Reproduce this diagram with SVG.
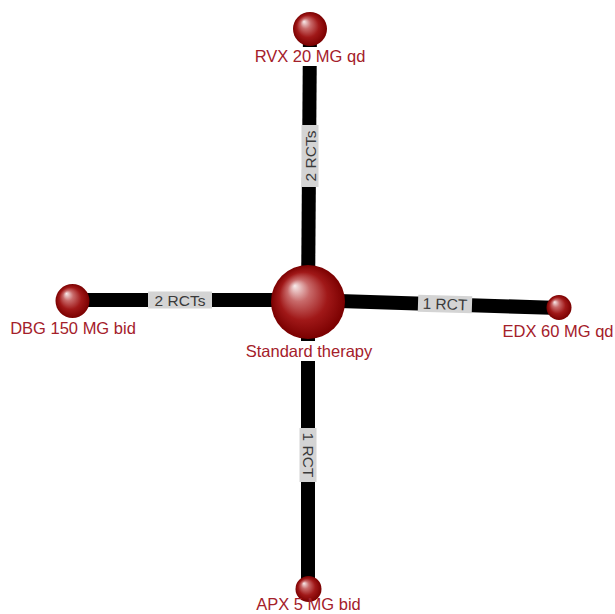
<svg xmlns="http://www.w3.org/2000/svg" width="615" height="614" viewBox="0 0 615 614">
<defs>
<radialGradient id="ball" cx="0.5" cy="0.5" r="0.5" fx="0.32" fy="0.28">
<stop offset="0" stop-color="#f8ecec"/>
<stop offset="0.3" stop-color="#c86a6a"/>
<stop offset="0.65" stop-color="#a01818"/>
<stop offset="1" stop-color="#7a0000"/>
</radialGradient>
<style>
.edge{stroke:#000;stroke-width:14;fill:none}
.lbox{fill:#d4d4d4}
.etxt{font-family:"Liberation Sans",Arial,sans-serif;font-size:15.5px;fill:#3a3a3a;text-anchor:middle}
.ntxt{font-family:"Liberation Sans",Arial,sans-serif;font-size:16.5px;fill:#a4202a;text-anchor:middle}
.node{fill:url(#ball)}
</style>
</defs>
<rect width="615" height="614" fill="#fff"/>
<g id="connectors">
<line class="edge" x1="310" y1="29" x2="308" y2="302"/>
<line class="edge" x1="308" y1="302" x2="308" y2="589"/>
<line class="edge" x1="72" y1="300" x2="308" y2="300"/>
<line class="edge" x1="308" y1="300" x2="559" y2="308"/>
<g transform="translate(310,156) rotate(-90)">
<rect class="lbox" x="-31" y="-8.5" width="62" height="17"/>
<text class="etxt" x="0" y="5.5">2 RCTs</text>
</g>
<g transform="translate(308,455) rotate(90)">
<rect class="lbox" x="-27" y="-8.5" width="54" height="17"/>
<text class="etxt" x="0" y="5.5">1 RCT</text>
</g>
<g transform="translate(180,300)">
<rect class="lbox" x="-32" y="-8.5" width="64" height="17"/>
<text class="etxt" x="0" y="5.5">2 RCTs</text>
</g>
<g transform="translate(445,304) rotate(1.84)">
<rect class="lbox" x="-27" y="-8.5" width="54" height="17"/>
<text class="etxt" x="0" y="5.5">1 RCT</text>
</g>
</g>
<g id="node-standard">
<circle class="node" cx="308" cy="302" r="37"/>
<rect x="242" y="341" width="134" height="20" fill="#fff"/>
<text class="ntxt" x="309" y="357">Standard therapy</text>
</g>
<g id="node-rvx">
<circle class="node" cx="310" cy="29" r="17"/>
<rect x="252" y="47" width="116" height="19" fill="#fff"/>
<text class="ntxt" x="310" y="62">RVX 20 MG qd</text>
</g>
<g id="node-dbg">
<circle class="node" cx="72.5" cy="301" r="17"/>
<text class="ntxt" x="73" y="334">DBG 150 MG bid</text>
</g>
<g id="node-edx">
<circle class="node" cx="559" cy="307.5" r="12.5"/>
<text class="ntxt" x="558" y="337">EDX 60 MG qd</text>
</g>
<g id="node-apx">
<circle class="node" cx="308.5" cy="589" r="13"/>
<text class="ntxt" x="308.5" y="610">APX 5 MG bid</text>
</g>
</svg>
